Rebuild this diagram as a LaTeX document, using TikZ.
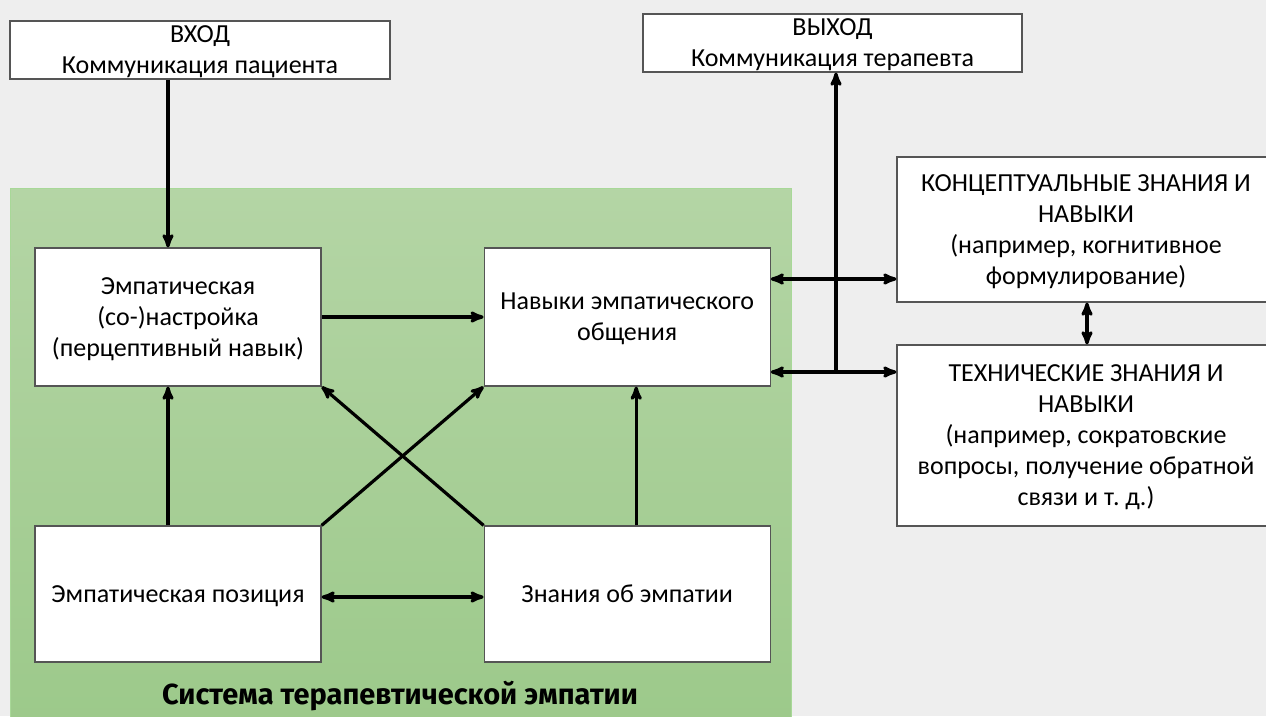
\documentclass[tikz,border=0pt]{standalone}
\usepackage{fontspec}
\setmainfont{Carlito}
\newfontfamily\titlefont{Fira Sans}
\usetikzlibrary{arrows,positioning}

\definecolor{bggray}{HTML}{EEEEEE}
\definecolor{boxline}{HTML}{555555}
\definecolor{greentop}{HTML}{B4D5A5}
\definecolor{greenbot}{HTML}{9CC98A}
\definecolor{greenedge}{HTML}{A8D898}

\begin{document}
\begin{tikzpicture}[x=1pt,y=-1pt,>=stealth',
  box/.style={draw=boxline,line width=1.2pt,fill=white,align=center,inner sep=0pt,
    text depth=0pt,font=\fontsize{26}{31}\selectfont},
  every edge/.style={draw,black,line width=3.2pt}]
%\tikzstyle{box}=[draw,fill=white]

  \fill[bggray] (0,0) rectangle (1266,716);
  \useasboundingbox (0,0) rectangle (1266,716);
  \shade[top color=greentop,bottom color=greenbot,draw=greenedge,line width=1pt]
    (10,188) rectangle (791,730);

  \node[box,minimum width=380pt,minimum height=58pt] (in)  at (200,50)
    {ВХОД\\Коммуникация пациента};
  \node[box,minimum width=379pt,minimum height=58pt] (out) at (832.5,43)
    {ВЫХОД\\Коммуникация терапевта};

  \node[box,minimum width=286pt,minimum height=138pt] (att) at (178,317)
    {Эмпатическая\\(со-)настройка\\(перцептивный навык)};
  \node[box,minimum width=286pt,minimum height=138pt] (comm) [right=162pt of att]
    {Навыки эмпатического\\общения};
  \node[box,minimum width=286pt,minimum height=136pt] (pos) at (178,594)
    {Эмпатическая позиция};
  \node[box,minimum width=286pt,minimum height=136pt] (know) [right=162pt of pos]
    {Знания об эмпатии};

  \node[box,minimum width=378pt,minimum height=145pt] (conc) at (1086,229.5)
    {КОНЦЕПТУАЛЬНЫЕ ЗНАНИЯ И\\НАВЫКИ\\(например, когнитивное\\формулирование)};
  \node[box,minimum width=378pt,minimum height=181pt] (tech) at (1086,435.5)
    {ТЕХНИЧЕСКИЕ ЗНАНИЯ И\\НАВЫКИ\\(например, сократовские\\вопросы, получение обратной\\связи и т.~д.)};

  \node[font=\titlefont\bfseries\fontsize{29}{32}\selectfont] (sys) at (400,696)
    {Система терапевтической эмпатии};

  \coordinate (upper) at ([yshift=38pt]comm.east);
  \coordinate (split) at (836,372);
  \coordinate (link)  at (1087,0);

  \path ([xshift=-10pt]att.north |- in.south) edge[->] ([xshift=-10pt]att.north)
        (att.east)                  edge[->] (comm.west)
        ([xshift=-10pt]pos.north)   edge[->] ([xshift=-10pt]att.south)
        ([xshift=9pt]know.north)    edge[->] ([xshift=9pt]comm.south)
        (pos.north east)            edge[->] (comm.south west)
        (know.north west)           edge[->] (att.south east)
        ([yshift=-3pt]pos.east)     edge[<->] ([yshift=-3pt]know.west)
        (upper)                     edge[<->] (conc.west |- upper)
        (comm.east |- split)        edge[<->] (tech.west |- split)
        (split)                     edge[->] (split |- out.south)
        (conc.south -| link)        edge[<->] (tech.north -| link);
\end{tikzpicture}
\end{document}
